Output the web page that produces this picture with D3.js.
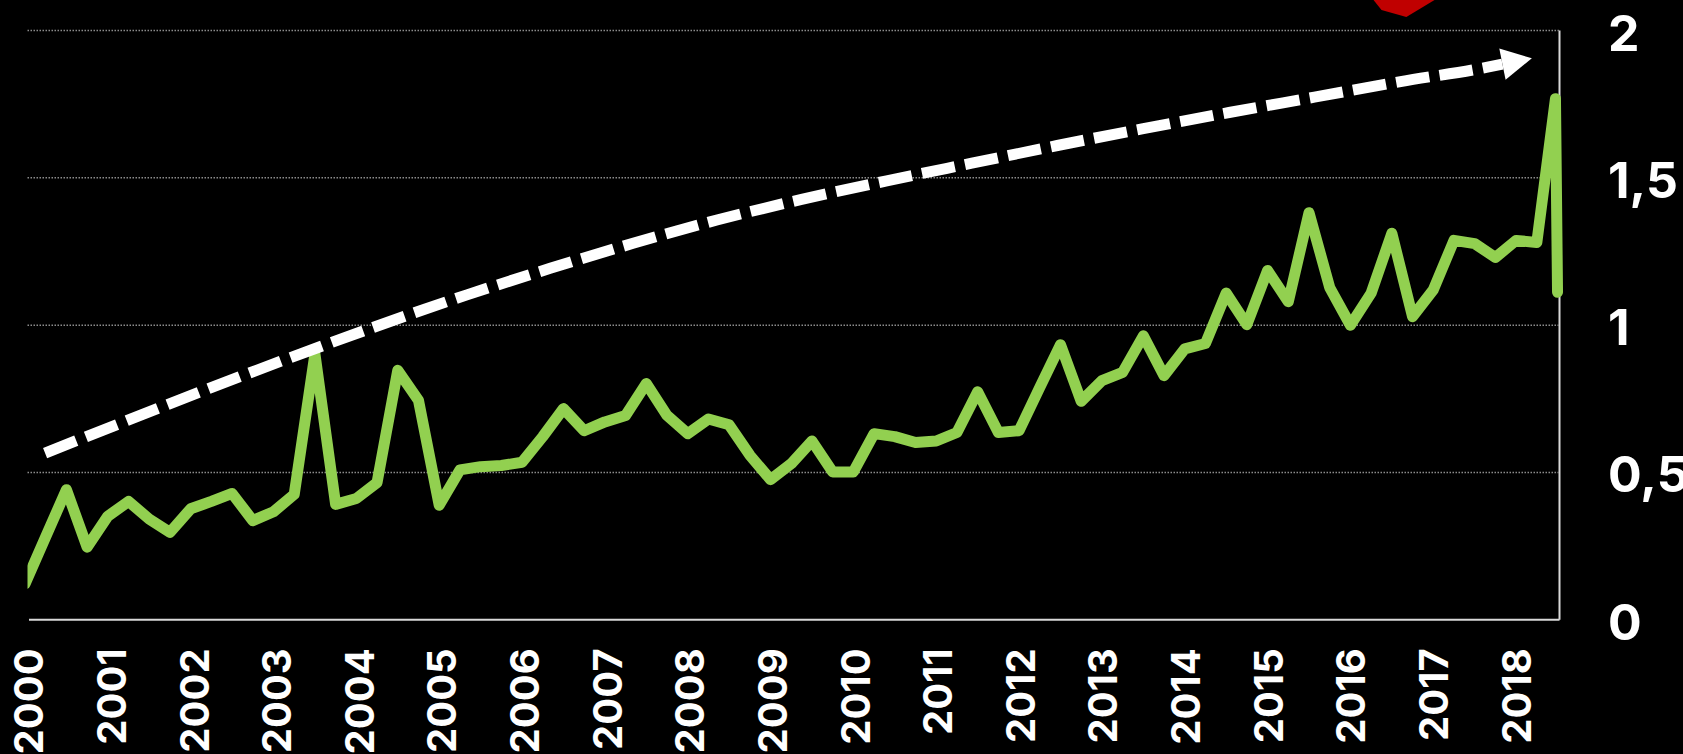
<!DOCTYPE html>
<html><head><meta charset="utf-8">
<script src="https://cdn.jsdelivr.net/npm/d3@7/dist/d3.min.js"></script>
<style>html,body{margin:0;padding:0;background:#000;overflow:hidden}svg{display:block}</style>
</head><body><svg id="c" width="1683" height="754"></svg>
<script>
const years=[2000,2001,2002,2003,2004,2005,2006,2007,2008,2009,2010,2011,2012,2013,2014,2015,2016,2017,2018];
const yTicks=[0,0.5,1,1.5,2];
// quarter index since 2000 (last two samples nearly coincide in the source)
const quarters=[0,1,2,3,4,5,6,7,8,9,10,11,12,13,14,15,16,17,18,19,20,21,22,23,24,25,26,27,28,29,30,31,32,33,34,35,36,37,38,39,40,41,42,43,44,45,46,47,48,49,50,51,52,53,54,55,56,57,58,59,60,61,62,63,64,65,66,67,68,69,70,71,72,73,73.9,74];
const values=[0.12,0.28,0.44,0.245,0.35,0.40,0.34,0.295,0.375,0.40,0.427,0.335,0.365,0.424,0.90,0.39,0.41,0.464,0.845,0.743,0.387,0.507,0.518,0.522,0.533,0.62,0.715,0.64,0.67,0.692,0.80,0.692,0.63,0.68,0.66,0.557,0.474,0.528,0.605,0.50,0.50,0.63,0.62,0.60,0.605,0.634,0.772,0.634,0.64,0.787,0.932,0.74,0.81,0.838,0.962,0.827,0.918,0.936,1.107,1.00,1.184,1.078,1.38,1.126,0.998,1.107,1.31,1.027,1.118,1.286,1.275,1.228,1.286,1.279,1.767,1.11];
const trendQ=[0.97,14.05,21.34,25.36,29.36,33.41,37.5,41.61,45.72,49.85,54,58.14,62.26,66.42,70.56,71.34];
const trendV=[0.564,0.920,1.101,1.191,1.276,1.355,1.425,1.488,1.548,1.608,1.665,1.72,1.772,1.825,1.873,1.884];
const redQ=[65,65.5,66.7,68.3];
const redV=[2.112,2.068,2.044,2.112];

const L=27.5,R=1559,T=30,B=619.3;
const svg=d3.select('#c');
const x=d3.scaleLinear().domain([0,74.1]).range([25,1559.6]);
const xYear=d3.scaleLinear().domain([2000,2018.525]).range([28.5,R]);
const y=d3.scaleLinear().domain([0,2]).range([B,T]);
const FONT='Inter,sans-serif';

// gridlines and right axis
const yg=svg.append('g').attr('transform',`translate(${R},0)`).call(d3.axisRight(y).tickValues(yTicks).tickSize(0).tickPadding(49).tickFormat(d=>String(d).replace('.',',')));
yg.select('.domain').attr('stroke','#d9d9d9').attr('stroke-width',2);
yg.selectAll('text').attr('fill','#fff').attr('font-family',FONT).attr('font-weight',700).attr('font-size',50).attr('dy','0.40em');
const grid=svg.append('g').attr('transform',`translate(${R},0)`).call(d3.axisLeft(y).tickValues(yTicks.filter(d=>d>0)).tickSize(R-L).tickFormat(''));
grid.select('.domain').remove();
grid.selectAll('line').attr('stroke','#8c8c8c').attr('stroke-width',1.5).attr('stroke-dasharray','1.5 1.5');

// bottom axis
const xg=svg.append('g').attr('transform',`translate(0,${B})`).call(d3.axisBottom(xYear).tickValues(years).tickSize(0).tickPadding(0).tickFormat(d3.format('d')));
xg.select('.domain').attr('stroke','#d9d9d9').attr('stroke-width',2);
xg.selectAll('text').attr('fill','#fff').attr('font-family',FONT).attr('font-weight',700).attr('font-size',40)
  .attr('text-anchor','end').attr('transform','rotate(-90)').attr('x',-29).attr('y',0).attr('dy','0.36em');

// red shape cut by the top edge
svg.append('path').attr('fill','#C00000').attr('d',d3.line().x((d,i)=>x(redQ[i])).y((d,i)=>y(redV[i]))(redQ));

// series
svg.append('defs').append('clipPath').attr('id','cl').append('rect').attr('x',L).attr('y',0).attr('width',1683-L).attr('height',754);
const pts=quarters.map((q,i)=>[x(q),y(values[i])]);
svg.append('path').attr('clip-path','url(#cl)').attr('fill','none').attr('stroke','#92D050').attr('stroke-width',11)
  .attr('stroke-linejoin','round').attr('stroke-linecap','round').attr('d',d3.line()(pts));

// dashed trend arrow
const tpts=trendQ.map((q,i)=>[x(q),y(trendV[i])]);
svg.append('path').attr('fill','none').attr('stroke','#fff').attr('stroke-width',11).attr('stroke-dasharray','33.5 10.4')
  .attr('d',d3.line().curve(d3.curveMonotoneX)(tpts));
const n=tpts.length-1,[ex,ey]=tpts[n];
const a=Math.atan2(tpts[n][1]-tpts[n-1][1],tpts[n][0]-tpts[n-1][0]);
svg.append('path').attr('fill','#fff').attr('transform',`translate(${ex},${ey}) rotate(${a*180/Math.PI})`).attr('d','M30,0L0,-16L0,16Z');
</script></body></html>
